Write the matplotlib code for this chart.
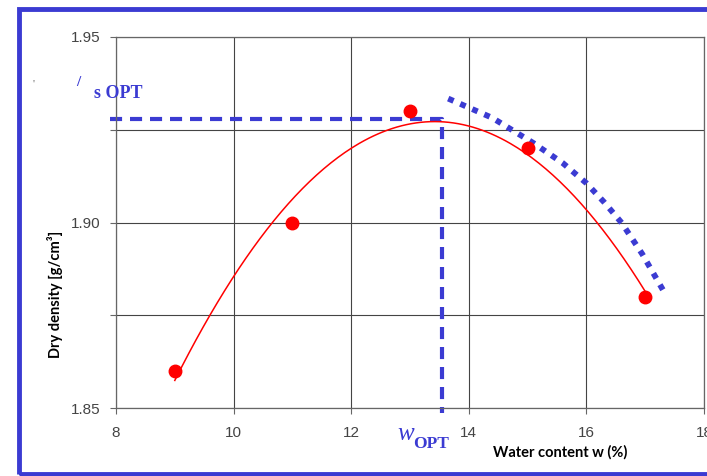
import matplotlib.pyplot as plt
import numpy as np
from matplotlib.patches import Rectangle

water = [9, 11, 13, 15, 17]
density = [1.86, 1.90, 1.93, 1.92, 1.88]

w_opt = 13.55
rho_opt = 1.928

# dotted envelope
env_w = [13.65, 14.4, 15.1, 15.6, 16.0, 16.3, 16.6, 16.95, 17.35]
env_rho = [1.9334, 1.9282, 1.9214, 1.9160, 1.9106, 1.9055, 1.8999, 1.8915, 1.8805]

xticks = [8, 10, 12, 14, 16, 18]
yticks = [1.85, 1.875, 1.90, 1.925, 1.95]
ylabels = ["1.85", "", "1.90", "", "1.95"]

blue = "#3b3bd2"

fig = plt.figure(figsize=(7.07, 4.76), dpi=100)
ax = fig.add_axes([116/707, 1 - 408/476, (704-116)/707, (408-37)/476])

# quadratic fit through the measured points
coef = np.polyfit(water, density, 2)
xs = np.linspace(min(water), max(water), 200)
ax.plot(xs, np.polyval(coef, xs), color="red", lw=1.1, zorder=3)
ax.plot(water, density, "o", color="red", ms=9, zorder=4)

ax.plot([7.9, w_opt, w_opt], [rho_opt, rho_opt, 1.8487], color=blue, lw=3,
        dashes=(2.9, 1.9), clip_on=False, zorder=2)
ax.plot(env_w, env_rho, color=blue, lw=4.2, dashes=(1.0, 1.25),
        dash_capstyle="butt", clip_on=False, zorder=2)

ax.set_xlim(8, 18)
ax.set_ylim(1.85, 1.95)
ax.set_xticks(xticks)
ax.set_yticks(yticks)
ax.set_yticklabels(ylabels)
ax.grid(True, color="#444444", lw=0.8)
ax.set_axisbelow(True)
for s in ax.spines.values():
    s.set_color("#666666")
    s.set_linewidth(0.9)
ax.tick_params(axis="both", direction="out", colors="#666666", labelcolor="#444444",
               labelsize=11, length=4, width=0.8)
for lab in ax.get_xticklabels() + ax.get_yticklabels():
    lab.set_fontfamily("Liberation Sans")
ax.tick_params(axis="x", pad=9)
ax.tick_params(axis="y", pad=7)

fig.text(560/707, 1 - 452/476, "Water content w (%)", fontfamily="Lato",
         fontweight="bold", fontsize=10.5, ha="center", va="center",
         bbox=dict(facecolor="white", edgecolor="none", pad=1))
fig.text(55/707, 1 - 294/476, "Dry density [g/cm³]", fontfamily="Lato",
         fontweight="bold", fontsize=10.5, ha="center", va="center", rotation=90)

fig.text(94/707, 1 - 94/476, "s OPT", fontfamily="Liberation Serif",
         fontweight="bold", fontsize=13, color=blue, ha="left", va="center")
fig.text(78/707, 1 - 82/476, "/", fontfamily="Liberation Serif",
         fontweight="bold", fontsize=11, color=blue, ha="center", va="center")
fig.text(34/707, 1 - 84/476, "'", fontfamily="Liberation Serif",
         fontsize=8, color="#666666", ha="center", va="center")
fig.text(397/707, 1 - 440/476, "w", fontfamily="Liberation Serif",
         fontstyle="italic", fontsize=18, color=blue, ha="left", va="baseline")
fig.text(413/707, 1 - 448/476, "OPT", fontfamily="Liberation Serif",
         fontweight="bold", fontsize=12.5, color=blue, ha="left", va="baseline")

fig.patches.append(Rectangle((19/707, 2/476), 1.2, 465/476, transform=fig.transFigure,
                             fill=False, edgecolor=blue, lw=3.5))

fig.savefig("out.png", dpi=100)
